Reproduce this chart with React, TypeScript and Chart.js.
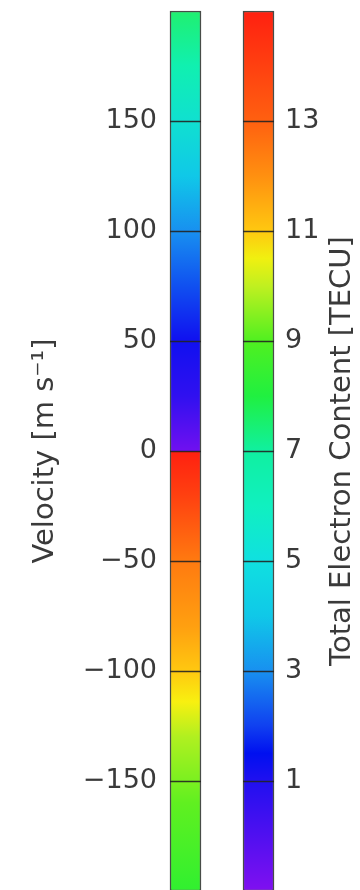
import React, { useEffect, useRef } from "react";
import { Chart, registerables } from "chart.js";

Chart.register(...registerables);

// ---- data ----
const categories = ["Velocity", "TEC"];
const velocityRange: [number, number] = [-200, 200];
const tecRange: [number, number] = [-1, 15];
const velocityTicks = [-150, -100, -50, 0, 50, 100, 150];
const tecTicks = [1, 3, 5, 7, 9, 11, 13];

const velocityStopValues = [-200, -160, -130, -114, -100, -80, -50, -20, 0, 0, 25, 50, 75, 100, 125, 150, 175, 200];
const velocityStopColors = [
  "#30f030", "#60f020", "#b0f020", "#f8f010", "#ffc810", "#ffa010", "#ff7a10", "#ff4010", "#ff2010",
  "#7010f0", "#3010f0", "#1010f0", "#1050f0", "#1890f0", "#10c8e8", "#10e0d0", "#10f0b0", "#20f070",
];

const tecStopValues = [-1, 0, 1, 1.5, 2, 3, 4, 5, 6, 7, 8, 9, 10, 10.5, 11, 12, 13, 15];
const tecStopColors = [
  "#8010f0", "#5010f0", "#2010f0", "#0010f0", "#1040f0", "#1890f0", "#10c8e8", "#10e0e0", "#10f0c0",
  "#10f0a0", "#20f040", "#50f020", "#c0f020", "#f0f010", "#ffc810", "#ff9010", "#ff6010", "#ff2010",
];

const velocityTitle = "Velocity [m s\u207B\u00B9]";
const tecTitle = "Total Electron Content [TECU]";

const TEXT_COLOR = "#3a3a3a";
const FONT_FAMILY = "'DejaVu Sans', 'Liberation Sans', sans-serif";
const TICK_SIZE = 27;
const TITLE_SIZE = 29;

function makeGradient(
  chart: any,
  axisId: string,
  range: [number, number],
  values: number[],
  colors: string[],
  fallback: string
) {
  const area = chart.chartArea;
  const scale = chart.scales[axisId];
  if (!area || !scale) return fallback;
  const y0 = scale.getPixelForValue(range[0]);
  const y1 = scale.getPixelForValue(range[1]);
  const g = chart.ctx.createLinearGradient(0, y0, 0, y1);
  const span = range[1] - range[0];
  values.forEach((v, i) => {
    const f = Math.min(1, Math.max(0, (v - range[0]) / span));
    g.addColorStop(f, colors[i]);
  });
  return g;
}

const tickLinesPlugin = {
  id: "tickLines",
  afterDatasetsDraw(chart: any) {
    const ctx = chart.ctx;
    ctx.save();
    ctx.strokeStyle = "rgba(35,35,35,0.9)";
    ctx.lineWidth = 1.5;
    chart.data.datasets.forEach((ds: any, di: number) => {
      const meta = chart.getDatasetMeta(di);
      const scale = chart.scales[meta.yAxisID];
      ds.data.forEach((d: any, i: number) => {
        if (!d) return;
        const el = meta.data[i];
        if (!el) return;
        const { x, width } = el.getProps(["x", "width"], true);
        scale.ticks.forEach((t: any) => {
          const y = Math.round(scale.getPixelForValue(t.value)) + 0.5;
          ctx.beginPath();
          ctx.moveTo(x - width / 2, y);
          ctx.lineTo(x + width / 2, y);
          ctx.stroke();
        });
      });
    });
    ctx.restore();
  },
};

const rightTitlePlugin = {
  id: "rightTitle",
  afterDraw(chart: any) {
    const scale = chart.scales.y2;
    if (!scale) return;
    const ctx = chart.ctx;
    const text = scale.options.title.text;
    ctx.save();
    ctx.fillStyle = TEXT_COLOR;
    ctx.font = `${TITLE_SIZE}px ${FONT_FAMILY}`;
    ctx.textAlign = "center";
    ctx.textBaseline = "middle";
    const cx = scale.right - 18;
    const cy = (scale.top + scale.bottom) / 2;
    ctx.translate(cx, cy);
    ctx.rotate(-Math.PI / 2);
    ctx.fillText(text, 0, 0);
    ctx.restore();
  },
};

function fmtTick(v: number) {
  return v < 0 ? "\u2212" + Math.abs(v) : String(v);
}

function fixWidth(w: number) {
  return (s: any) => {
    s.width = w;
    s.paddingTop = 0;
    s.paddingBottom = 0;
  };
}

export default function App() {
  const ref = useRef<HTMLCanvasElement | null>(null);

  useEffect(() => {
    if (!ref.current) return;
    const common = {
      grouped: false,
      barThickness: 31,
      borderWidth: 1.5,
      borderColor: "rgba(40,45,40,0.85)",
      borderSkipped: false,
      clip: false,
    };
    const chart = new Chart(ref.current, {
      type: "bar",
      data: {
        labels: categories,
        datasets: [
          {
            ...common,
            label: categories[0],
            data: [velocityRange, null] as any,
            yAxisID: "y",
            backgroundColor: (c: any) =>
              makeGradient(c.chart, "y", velocityRange, velocityStopValues, velocityStopColors, "#10e0d0"),
          } as any,
          {
            ...common,
            label: categories[1],
            data: [null, tecRange] as any,
            yAxisID: "y2",
            backgroundColor: (c: any) =>
              makeGradient(c.chart, "y2", tecRange, tecStopValues, tecStopColors, "#10e0e0"),
          } as any,
        ],
      },
      options: {
        responsive: false,
        animation: false,
        layout: { autoPadding: false, padding: { top: 11, bottom: 1, left: 0, right: 0 } },
        plugins: { legend: { display: false }, tooltip: { enabled: false } },
        scales: {
          x: { display: false, offset: false },
          y: {
            position: "left",
            min: velocityRange[0],
            max: velocityRange[1],
            afterBuildTicks: (s: any) => {
              s.ticks = velocityTicks.map((v) => ({ value: v }));
            },
            afterFit: fixWidth(185.5),
            grid: { display: false, drawTicks: false },
            border: { display: false },
            ticks: {
              padding: 28.5,
              color: TEXT_COLOR,
              font: { family: FONT_FAMILY, size: TICK_SIZE },
              callback: (v: any) => fmtTick(Number(v)),
            },
            title: {
              display: true,
              text: velocityTitle,
              color: TEXT_COLOR,
              font: { family: FONT_FAMILY, size: TITLE_SIZE },
              padding: { top: 28, bottom: 0 },
            },
          },
          y2: {
            position: "right",
            min: tecRange[0],
            max: tecRange[1],
            afterBuildTicks: (s: any) => {
              s.ticks = tecTicks.map((v) => ({ value: v }));
            },
            afterFit: fixWidth(101.5),
            grid: { display: false, drawTicks: false },
            border: { display: false },
            ticks: {
              padding: 26.5,
              color: TEXT_COLOR,
              font: { family: FONT_FAMILY, size: TICK_SIZE },
              callback: (v: any) => fmtTick(Number(v)),
            },
            title: { display: false, text: tecTitle },
          },
        },
      } as any,
      plugins: [tickLinesPlugin, rightTitlePlugin],
    });
    return () => chart.destroy();
  }, []);

  return (
    <div
      style={{
        position: "fixed",
        left: 0,
        top: 0,
        width: 360,
        height: 890,
        overflow: "hidden",
        background: "#ffffff",
      }}
    >
      <canvas ref={ref} width={360} height={892} style={{ display: "block" }} />
    </div>
  );
}
